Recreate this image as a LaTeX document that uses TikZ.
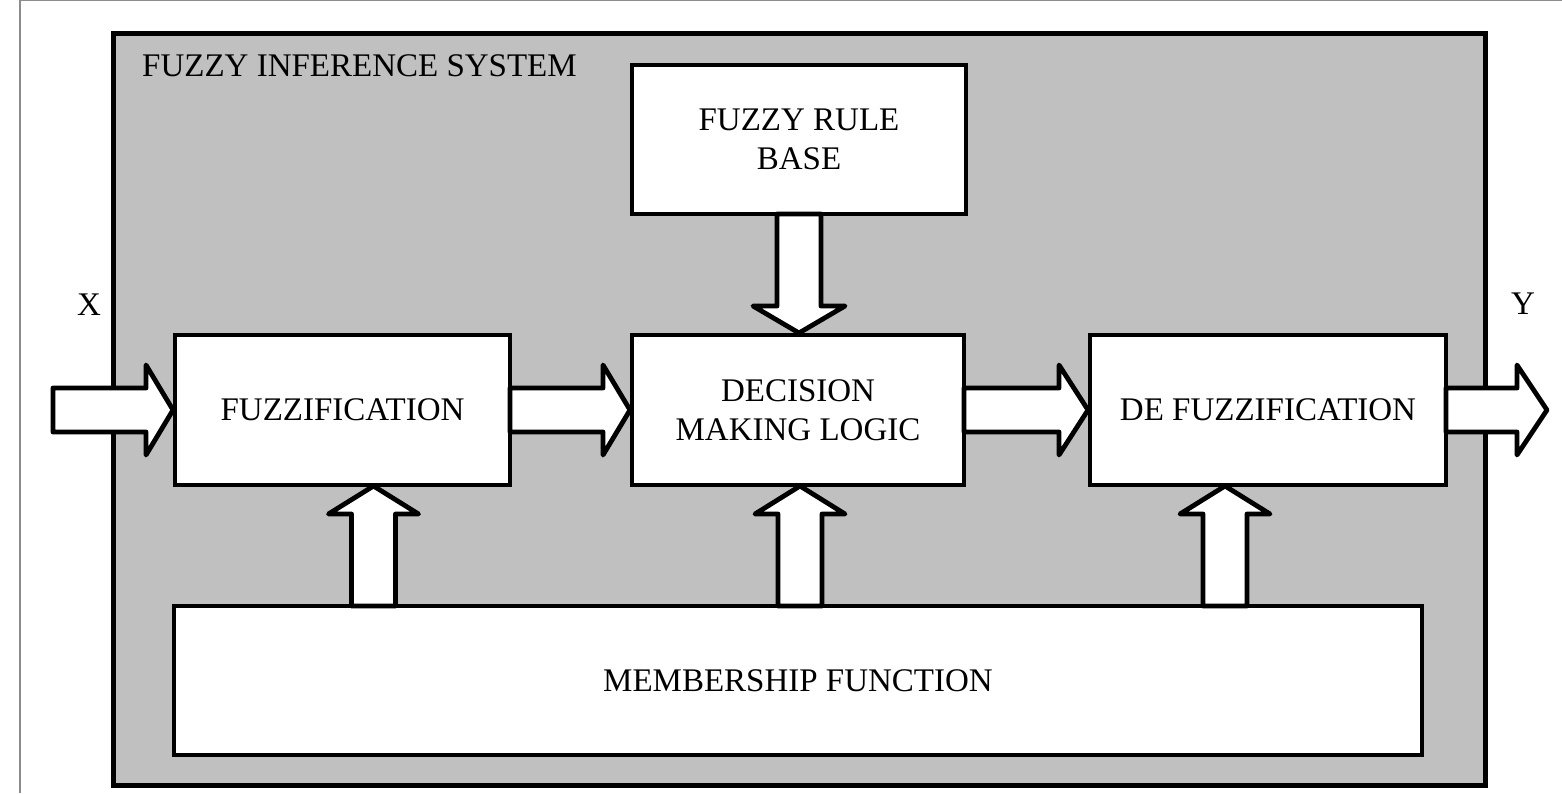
\documentclass[tikz,border=0pt]{standalone}
\usepackage{fontspec}
\setmainfont{Liberation Serif}
\usetikzlibrary{calc}
\definecolor{panelgray}{HTML}{C0C0C0}
\definecolor{framegray}{HTML}{8C8C8C}
\tikzset{
  block/.style={draw=black, fill=white, line width=4.8pt, inner sep=0pt, outer sep=0pt,
    align=center, font=\fontsize{33}{39}\selectfont},
  blockarrow/.style={draw=black, fill=white, line width=4.8pt, line join=round},
  plainlabel/.style={inner sep=0pt, font=\fontsize{33}{39}\selectfont},
}
\begin{document}
\begin{tikzpicture}[x=1pt, y=1pt]
  \useasboundingbox (0,0) rectangle (1562,793);
  % page frame
  \draw[framegray, line width=2pt] (19.5,0) -- (19.5,792.5) -- (1562,792.5);

  % system panel
  \node[draw=black, fill=panelgray, line width=5pt, inner sep=0pt, outer sep=0pt,
        minimum width=1372pt, minimum height=751pt] (sys) at (799,383.5) {};
  \node[plainlabel, anchor=base west] (systitle) at (142,716) {FUZZY INFERENCE SYSTEM};

  % processing blocks
  \node[block, minimum width=335pt, minimum height=150pt] (fz) at (342.5,383) {FUZZIFICATION};
  \node[block, minimum width=332pt, minimum height=150pt] (dm) at (798,383) {DECISION\\MAKING LOGIC};
  \node[block, minimum width=356pt, minimum height=150pt] (df) at (1268,383) {DE FUZZIFICATION};
  \node[block, minimum width=334pt, minimum height=149pt] (rb) at (799,653.5) {FUZZY RULE\\BASE};
  \node[block, minimum width=1248pt, minimum height=149pt] (mf) at (798,112.5) {MEMBERSHIP FUNCTION};

  % input / output labels
  \node[plainlabel, anchor=base] (xin) at (89,477) {X};
  \node[plainlabel, anchor=base] (yout) at (1523,478) {Y};
  \coordinate (xstart) at (53,383);
  \coordinate (yend) at (1547,383);

  % horizontal block arrows
  \draw[blockarrow] let \p1=(xstart), \p2=(fz.west) in
    (\x1,\y1+22pt) -- (\x2-29pt,\y1+22pt) -- (\x2-29pt,\y1+45pt) -- (\x2-2pt,\y1)
    -- (\x2-29pt,\y1-45pt) -- (\x2-29pt,\y1-22pt) -- (\x1,\y1-22pt) -- cycle;
  \draw[blockarrow] let \p1=(fz.east), \p2=(dm.west) in
    (\x1,\y1+22pt) -- (\x2-29pt,\y1+22pt) -- (\x2-29pt,\y1+45pt) -- (\x2-2pt,\y1)
    -- (\x2-29pt,\y1-45pt) -- (\x2-29pt,\y1-22pt) -- (\x1,\y1-22pt) -- cycle;
  \draw[blockarrow] let \p1=(dm.east), \p2=(df.west) in
    (\x1,\y1+22pt) -- (\x2-31pt,\y1+22pt) -- (\x2-31pt,\y1+45pt) -- (\x2-2pt,\y1)
    -- (\x2-31pt,\y1-45pt) -- (\x2-31pt,\y1-22pt) -- (\x1,\y1-22pt) -- cycle;
  \draw[blockarrow] let \p1=(df.east), \p2=(yend) in
    (\x1,\y1+22pt) -- (\x2-30pt,\y1+22pt) -- (\x2-30pt,\y1+45pt) -- (\x2,\y1)
    -- (\x2-30pt,\y1-45pt) -- (\x2-30pt,\y1-22pt) -- (\x1,\y1-22pt) -- cycle;

  % rule base feeding the decision logic
  \draw[blockarrow] let \p1=(rb.south), \p2=(dm.north) in
    (\x1+22pt,\y1) -- (\x1+22pt,\y2+29pt) -- (\x1+46pt,\y2+29pt) -- (\x1,\y2+2pt)
    -- (\x1-46pt,\y2+29pt) -- (\x1-22pt,\y2+29pt) -- (\x1-22pt,\y1) -- cycle;

  % membership function feeding each stage
  \foreach \tgt/\dx in {fz/31, dm/2, df/-43}{
    \draw[blockarrow] let \p1=(mf.north), \p2=(\tgt.south) in
      (\x2+\dx pt-22pt,\y1) -- (\x2+\dx pt-22pt,\y2-29pt) -- (\x2+\dx pt-45pt,\y2-29pt)
      -- (\x2+\dx pt,\y2-1pt) -- (\x2+\dx pt+45pt,\y2-29pt) -- (\x2+\dx pt+22pt,\y2-29pt)
      -- (\x2+\dx pt+22pt,\y1) -- cycle;
  }
\end{tikzpicture}
\end{document}
